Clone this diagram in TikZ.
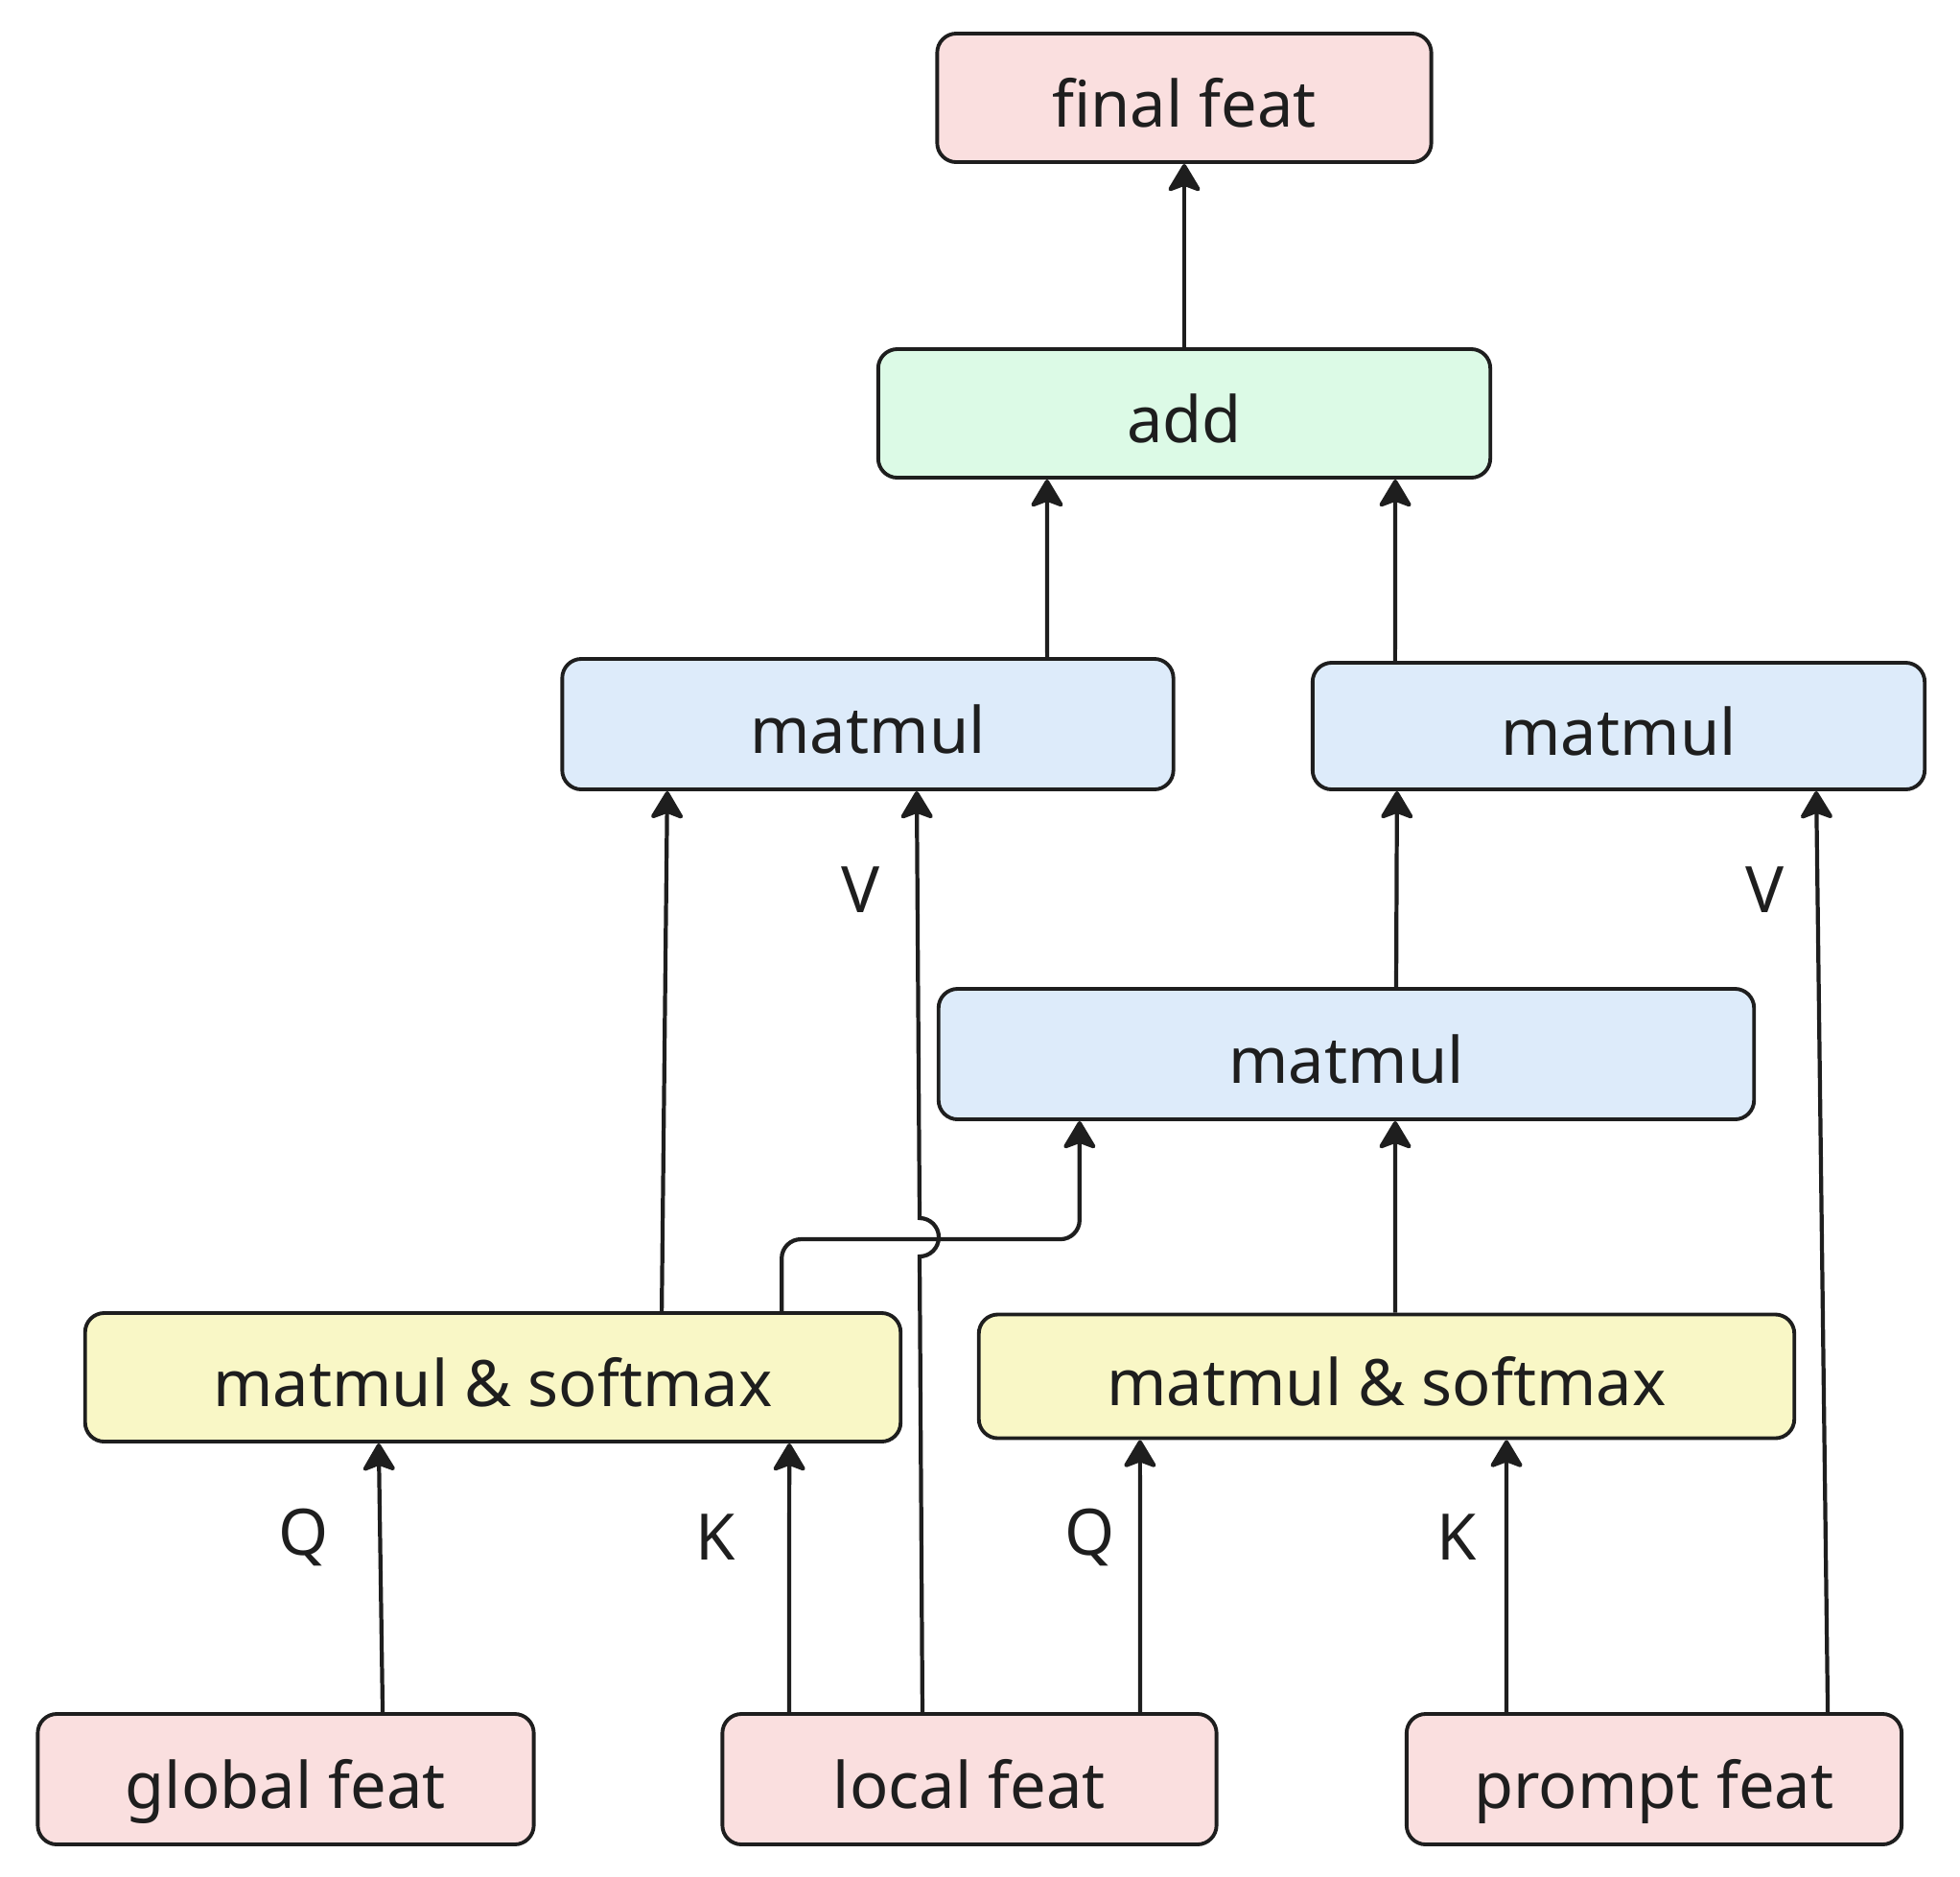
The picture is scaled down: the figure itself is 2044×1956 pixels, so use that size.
\documentclass[tikz,border=0pt]{standalone}
\usepackage{fontspec}
\setmainfont{Noto Sans}
\usepackage{xcolor}
\usetikzlibrary{arrows.meta, positioning}

\definecolor{featpink}{HTML}{FADFDF}
\definecolor{addgreen}{HTML}{DCFAE6}
\definecolor{mmblue}{HTML}{DDEBFA}
\definecolor{smyellow}{HTML}{F9F7C6}
\definecolor{inkgrey}{HTML}{1E1E1E}

\begin{document}
\begin{tikzpicture}[
    x=0.01cm, y=0.01cm,
    box/.style={rectangle, rounded corners=0.2cm, draw=inkgrey, line width=1.1pt,
        inner ysep=0pt, text height=0.74cm, text depth=0.14cm,
        minimum height=1.34cm, font=\fontsize{19}{23}\selectfont, text=inkgrey},
    feat-node/.style={box, fill=featpink, minimum width=5.15cm},
    add-node/.style={box, fill=addgreen, minimum width=6.38cm},
    mm-node/.style={box, fill=mmblue},
    sm-node/.style={box, fill=smyellow, minimum width=8.5cm},
    lbl/.style={font=\fontsize{19}{23}\selectfont, text=inkgrey},
    edge/.style={draw=inkgrey, line width=1.2pt,
        -{Stealth[length=0.32cm, width=0.38cm, inset=0.07cm, round]}}
]
    \useasboundingbox (0,0) rectangle (2044,-1956);

    % top
    \node[feat-node] (final) at (1235,-102) {final feat};
    \node[add-node] (add) at (1235,-431) {add};

    % matmul row
    \node[mm-node, minimum width=6.37cm, minimum height=1.36cm] (mm1) at (905,-755) {matmul};
    \node[mm-node, minimum width=6.38cm, minimum height=1.32cm] (mm2) at (1688,-757) {matmul};
    \node[mm-node, minimum width=8.5cm, minimum height=1.36cm] (mm3) at (1404,-1099) {matmul};

    % attention
    \node[sm-node] (sm1) at (514,-1436) {matmul \& softmax};
    \node[sm-node, minimum height=1.29cm] (sm2) at (1446,-1435) {matmul \& softmax};

    % inputs
    \node[feat-node, minimum width=5.17cm, minimum height=1.36cm] (gf) at (298,-1855) {global feat};
    \node[feat-node, minimum height=1.36cm] (lf) at (1011,-1855) {local feat};
    \node[feat-node, minimum width=5.16cm, minimum height=1.36cm] (pf) at (1725,-1855) {prompt feat};

    % labels
    \node[lbl] (q1) at (317,-1603) {Q};
    \node[lbl] (k1) at (746,-1603) {K};
    \node[lbl] (q2) at (1137,-1603) {Q};
    \node[lbl] (k2) at (1519,-1603) {K};
    \node[lbl] (v1) at (898,-928) {V};
    \node[lbl] (v2) at (1841,-928) {V};

    \coordinate (jmp-lo) at (959,-1310);

    \draw[edge] (add) -- (final);
    \draw[edge] ([xshift=1.87cm]mm1.north) -- ([xshift=-1.43cm]add.south);
    \draw[edge] ([xshift=-2.33cm]mm2.north) -- ([xshift=2.20cm]add.south);

    \draw[edge] ([xshift=1.76cm]sm1.north) -- ([xshift=-2.09cm]mm1.south);
    \draw[edge] ([xshift=-0.49cm]lf.north) -- (jmp-lo)
        arc[start angle=-90, end angle=90, radius=0.2cm] -- ([xshift=0.51cm]mm1.south);
    \draw[edge] ([xshift=0.52cm]mm3.north) -- ([xshift=-2.31cm]mm2.south);
    \draw[edge] ([xshift=1.81cm]pf.north) -- ([xshift=2.06cm]mm2.south);

    \draw[edge] ([xshift=0.09cm]sm2.north) -- ([xshift=0.51cm]mm3.south);
    \draw[edge, rounded corners=0.2cm] ([xshift=3.01cm]sm1.north)
        |- ([xshift=-2.78cm, yshift=-1.23cm]mm3.south) -- ([xshift=-2.78cm]mm3.south);

    \draw[edge] ([xshift=1.01cm]gf.north) -- ([xshift=-1.19cm]sm1.south);
    \draw[edge] ([xshift=-1.88cm]lf.north) -- ([xshift=3.09cm]sm1.south);
    \draw[edge] ([xshift=1.78cm]lf.north) -- ([xshift=-2.57cm]sm2.south);
    \draw[edge] ([xshift=-1.54cm]pf.north) -- ([xshift=1.25cm]sm2.south);

\end{tikzpicture}
\end{document}
